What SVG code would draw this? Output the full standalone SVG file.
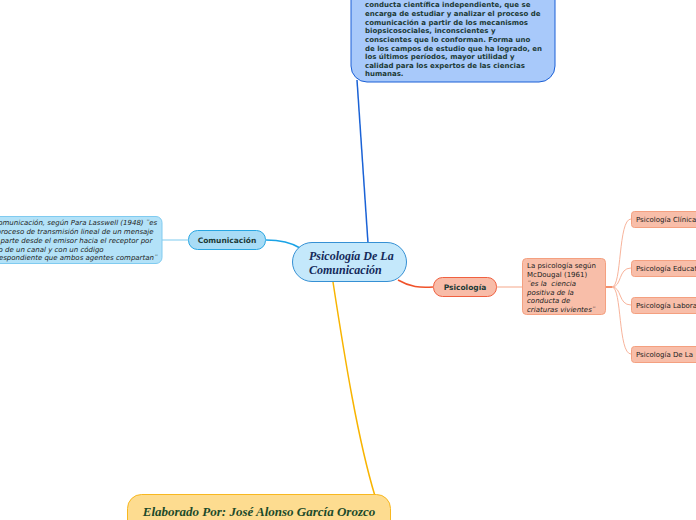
<svg xmlns="http://www.w3.org/2000/svg" width="696" height="520" viewBox="0 0 696 520">
<style>
.t{font-family:"DejaVu Sans","Liberation Sans",sans-serif;}
.top{font-size:7px;font-weight:bold;fill:#1c3a36;}
.lbl{font-size:7.5px;font-weight:bold;fill:#1c3a36;}
.sm{font-size:7px;fill:#222;}
.it{font-style:italic;}
.script{font-family:"Liberation Serif","DejaVu Serif",serif;font-style:italic;font-weight:bold;}
.c{fill:none;stroke-width:1.5;}
</style>
<rect width="696" height="520" fill="#ffffff"/>
<g id="connectors">
  <path class="c" d="M368,243 C364,180 360,120 357,80" stroke="#1a62d6"/>
  <path class="c" d="M333,282 C345,360 358,440 375,496" stroke="#f8b400"/>
  <path class="c" d="M266,240 C282,240 292,243 300,248" stroke="#1aa3e6"/>
  <path d="M162,240 L188,240" stroke="#a8dcf5" stroke-width="1.5" fill="none"/>
  <path class="c" d="M398,280 C410,287 420,288 433,287" stroke="#f0522a"/>
  <path d="M496,287 L522,287" stroke="#f8c4b0" stroke-width="1.5" fill="none"/>
  <g stroke="#f8b49c" stroke-width="1" fill="none">
    <path d="M606,287 L612,287 C622,287 618,219 631,219"/>
    <path d="M606,287 L612,287 C622,287 618,268 631,268"/>
    <path d="M606,287 L612,287 C622,287 618,305 631,305"/>
    <path d="M606,287 L612,287 C622,287 618,354 631,354"/>
  </g>
  <path d="M606,287 L612,287" stroke="#f4906c" stroke-width="2"/>
</g>
<g id="top-node">
  <rect x="351" y="-20" width="204" height="102" rx="16" fill="#a8c9fa" stroke="#1a5fd6" stroke-width="1"/>
  <g class="t top">
    <text x="365" y="7">conducta científica independiente, que se</text>
    <text x="365" y="16">encarga de estudiar y analizar el proceso de</text>
    <text x="365" y="24.5">comunicación a partir de los mecanismos</text>
    <text x="365" y="33">biopsicosociales, inconscientes y</text>
    <text x="365" y="42">conscientes que lo conforman. Forma uno</text>
    <text x="365" y="50.5">de los campos de estudio que ha logrado, en</text>
    <text x="365" y="59">los últimos períodos, mayor utilidad y</text>
    <text x="365" y="67.5">calidad para los expertos de las ciencias</text>
    <text x="365" y="76">humanas.</text>
  </g>
</g>
<g id="central">
  <rect x="292.5" y="242.5" width="114" height="39" rx="19.5" fill="#c4e8fb" stroke="#3590d4" stroke-width="1"/>
  <text class="script" x="309" y="260" font-size="12" fill="#152a5a">Psicología De La</text>
  <text class="script" x="309" y="274" font-size="12" fill="#152a5a">Comunicación</text>
</g>
<g id="comunicacion">
  <rect x="188.5" y="230.5" width="77" height="19" rx="9" fill="#a8dcf6" stroke="#28a6e2" stroke-width="1"/>
  <text class="t lbl" x="227" y="243" text-anchor="middle">Comunicación</text>
</g>
<g id="lasswell">
  <rect x="-40" y="216.5" width="202" height="47" rx="6" fill="#b3e2f8" stroke="#80cbf0" stroke-width="1"/>
  <g class="t sm it">
    <text x="-16" y="225">La comunicación, según Para Lasswell (1948) ¨es</text>
    <text x="-12" y="234">el proceso de transmisión lineal de un mensaje</text>
    <text x="-15" y="243">que parte desde el emisor hacia el receptor por</text>
    <text x="-19" y="251.5">medio de un canal y con un código</text>
    <text x="-15" y="260">correspondiente que ambos agentes compartan¨</text>
  </g>
</g>
<g id="psicologia">
  <rect x="433.5" y="277.5" width="63" height="19" rx="9" fill="#f8bca8" stroke="#f06040" stroke-width="1"/>
  <text class="t lbl" x="465" y="290" text-anchor="middle">Psicología</text>
</g>
<g id="mcdougal">
  <rect x="522.5" y="258.5" width="83" height="56" rx="4" fill="#f8bea9" stroke="#f4a080" stroke-width="1"/>
  <g class="t sm">
    <text x="527" y="268">La psicología según</text>
    <text x="527" y="277">McDougal (1961)</text>
    <text x="527" y="286" class="it">¨es la&#160; ciencia</text>
    <text x="527" y="294.5" class="it">positiva de la</text>
    <text x="527" y="303" class="it">conducta de</text>
    <text x="527" y="311.5" class="it">criaturas vivientes¨</text>
  </g>
</g>
<g id="clinica">
  <rect x="631.5" y="211.5" width="80" height="16" rx="3" fill="#f8bea9" stroke="#f4a080" stroke-width="1"/>
  <text class="t sm" x="636" y="222">Psicología Clínica</text>
</g>
<g id="educativa">
  <rect x="631.5" y="260.5" width="80" height="16" rx="3" fill="#f8bea9" stroke="#f4a080" stroke-width="1"/>
  <text class="t sm" x="636" y="271">Psicología Educativa</text>
</g>
<g id="laboral">
  <rect x="631.5" y="297.5" width="80" height="16" rx="3" fill="#f8bea9" stroke="#f4a080" stroke-width="1"/>
  <text class="t sm" x="636" y="308">Psicología Laboral</text>
</g>
<g id="dela">
  <rect x="631.5" y="346.5" width="80" height="16" rx="3" fill="#f8bea9" stroke="#f4a080" stroke-width="1"/>
  <text class="t sm" x="636" y="357">Psicología De La</text>
</g>
<g id="elaborado">
  <rect x="127.5" y="494.5" width="263" height="40" rx="14" fill="#fddc90" stroke="#f8b820" stroke-width="1"/>
  <text class="script" x="259" y="516" font-size="13" fill="#1c4a2a" text-anchor="middle">Elaborado Por: José Alonso García Orozco</text>
</g>
</svg>
